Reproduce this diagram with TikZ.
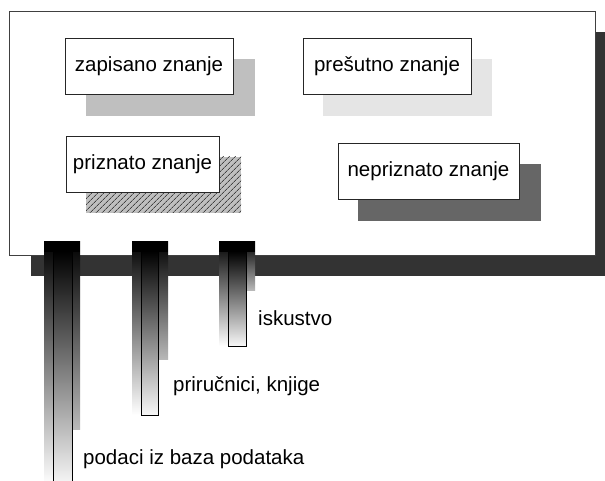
\documentclass[tikz,border=0pt]{standalone}
\usepackage{fontspec}
\setmainfont{Liberation Sans}
\usetikzlibrary{patterns.meta}
\newcommand\pipearrow[6]{%
  \shade[top color=black, bottom color=white] (#1,239) rectangle (#3,#5);
  \shade[top color=black, bottom color=black!28] (#3,239) rectangle (#4,#6);
  \shade[top color=black, bottom color=black!3, draw=black, line width=0.7pt] (#2,229) rectangle (#3,#5);
  \fill[black] (#1,239) rectangle (#4,228);
}
\begin{document}
\begin{tikzpicture}[x=1pt,y=1pt,
  kbox/.style={draw=black!85, line width=0.7pt, fill=white, inner sep=0pt,
    font=\fontsize{20.5}{24}\selectfont, text=black},
  lbl/.style={anchor=west, inner sep=0pt, font=\fontsize{20.5}{24}\selectfont, text=black}]
\useasboundingbox (0,0) rectangle (605,480);
\clip (0,0) rectangle (605,480);
\fill[white] (0,0) rectangle (605,480);
% main panel with shadow
\fill[black!80] (31,448) rectangle (620,204);
\node[draw=black!75, line width=0.8pt, fill=white, minimum width=586pt, minimum height=244pt, inner sep=0pt] (main) at (302,347) {};
% box shadows
\fill[black!25] (86,421) rectangle (255,364);
\fill[black!10] (323,421) rectangle (492,364);
\fill[black!25] (86,323) rectangle (241,267);
\fill[pattern={Lines[angle=45,distance=4pt,line width=0.6pt]}, pattern color=black] (86,323) rectangle (241,267);
\fill[black!60] (358,316) rectangle (541,259);
% boxes
\node[kbox, minimum width=168pt, minimum height=56pt] (zap) at (149,414) {zapisano znanje};
\node[kbox, minimum width=168pt, minimum height=56pt] (pre) at (387,414) {prešutno znanje};
\node[kbox, minimum width=153pt, minimum height=56pt] (pri) at (142.5,316) {priznato znanje};
\node[kbox, minimum width=181pt, minimum height=56pt] (nep) at (428.5,309) {nepriznato znanje};
% arrows
\pipearrow{44}{53}{72}{80}{-5}{51}
\pipearrow{132}{141}{158}{168}{65}{121}
\pipearrow{219}{228}{246}{255}{134}{190}
% labels
\node[lbl] (isk) at (258,162) {iskustvo};
\node[lbl] (prir) at (173,94) {priručnici, knjige};
\node[lbl] (pod) at (83,21) {podaci iz baza podataka};
\end{tikzpicture}
\end{document}
